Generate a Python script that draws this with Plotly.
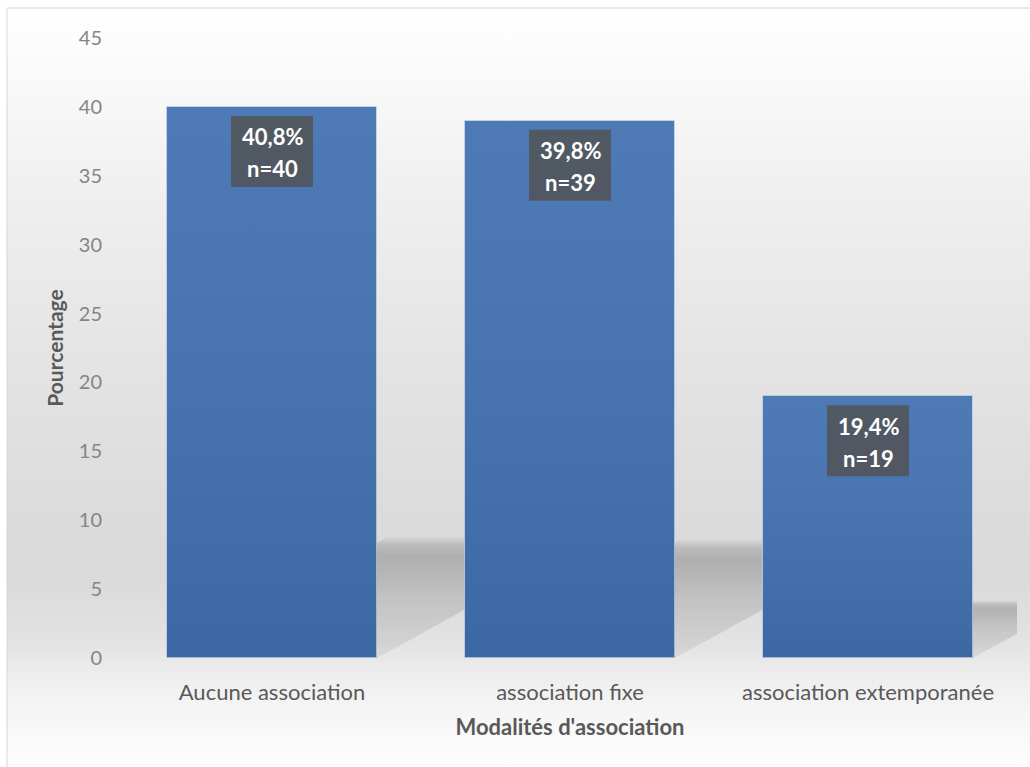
import base64
import plotly.graph_objects as go

# ---- data -------------------------------------------------------------
categories = ["Aucune association", "association fixe", "association extemporanée"]
effectifs = [40, 39, 19]
pourcentages = [40.8, 39.8, 19.4]
y_ticks = [0, 5, 10, 15, 20, 25, 30, 35, 40, 45]

# ---- geometry / style -------------------------------------------------
W, H = 1030, 767
ML, MR, MT, MB = 123, 13, 38, 109
PLOT_W = W - ML - MR
PLOT_H = H - MT - MB
Y_MAX = 45
BAR_W = 0.705
SHADOW_RATIO = 0.22     # shadow height relative to bar height
SHADOW_SLANT = 0.084    # horizontal offset (category units) per y unit
FONT = "Lato, 'Open Sans', sans-serif"


def paper_x(px):
    return (px - ML) / PLOT_W


def paper_y(py):
    return (H - MB - py) / PLOT_H


x_pos = list(range(len(categories)))

# soft vertical background gradient of the chart area
stops = [
    (0.000, "#ffffff"), (0.011, "#ffffff"), (0.08, "#fbfbfb"),
    (0.26, "#efefef"), (0.45, "#e5e5e5"), (0.66, "#dcdcdc"),
    (0.75, "#dadada"), (0.84, "#e3e3e3"), (0.87, "#ebebeb"),
    (0.91, "#f3f3f3"), (0.96, "#f9f9f9"), (1.0, "#fdfdfd"),
]
stop_xml = "".join(
    f'<stop offset="{o}" stop-color="{c}"/>' for o, c in stops
)
svg = (
    f'<svg xmlns="http://www.w3.org/2000/svg" width="{W}" height="{H}" '
    f'viewBox="0 0 {W} {H}" preserveAspectRatio="none">'
    f'<defs><linearGradient id="g" x1="0" y1="0" x2="0" y2="1">{stop_xml}'
    f'</linearGradient></defs>'
    f'<rect x="0" y="0" width="{W}" height="{H}" fill="url(#g)"/>'
    f'<rect x="0" y="0" width="7" height="{H}" fill="#ffffff"/>'
    f'</svg>'
)
bg_src = "data:image/svg+xml;base64," + base64.b64encode(svg.encode()).decode()

fig = go.Figure()

# perspective shadows cast behind each bar (base axes, drawn underneath)
for i, v in zip(x_pos, effectifs):
    h = v * SHADOW_RATIO
    dx = h * SHADOW_SLANT
    xl, xr = i - BAR_W / 2, i + BAR_W / 2
    fig.add_trace(go.Scatter(
        x=[xl, xr, xr + dx, xl + dx, xl],
        y=[0, 0, h, h, 0],
        mode="lines", fill="toself",
        line=dict(width=0, color="rgba(0,0,0,0)"),
        fillgradient=dict(
            type="vertical",
            colorscale=[
                [0.0, "rgba(0,0,0,0.06)"],
                [0.5, "rgba(0,0,0,0.12)"],
                [0.84, "rgba(0,0,0,0.20)"],
                [0.93, "rgba(0,0,0,0.15)"],
                [1.0, "rgba(0,0,0,0.02)"],
            ],
        ),
        hoverinfo="skip", showlegend=False,
        xaxis="x", yaxis="y",
    ))

# bars (overlay axes so they sit above the shadows)
fig.add_trace(go.Bar(
    x=x_pos, y=effectifs, width=BAR_W,
    marker=dict(color="#4272b0",
                line=dict(color="rgba(215,228,245,0.6)", width=1)),
    hoverinfo="skip", showlegend=False,
    xaxis="x2", yaxis="y2",
))

# subtle light-to-dark shading across each bar
for i, v in zip(x_pos, effectifs):
    xl, xr = i - BAR_W / 2, i + BAR_W / 2
    fig.add_trace(go.Scatter(
        x=[xl, xr, xr, xl, xl], y=[0, 0, v, v, 0],
        mode="lines", fill="toself",
        line=dict(width=0, color="rgba(0,0,0,0)"),
        fillgradient=dict(
            type="vertical",
            colorscale=[[0.0, "rgba(0,10,40,0.10)"],
                        [1.0, "rgba(255,255,255,0.06)"]],
        ),
        hoverinfo="skip", showlegend=False,
        xaxis="x2", yaxis="y2",
    ))

# data label boxes and texts
shapes = []
annotations = []
for i, v, p, n in zip(x_pos, effectifs, pourcentages, effectifs):
    shapes.append(dict(
        type="rect", xref="x2", yref="y2",
        xsizemode="pixel", ysizemode="pixel",
        xanchor=i, yanchor=v,
        x0=-41, x1=41, y0=-9, y1=-80,
        fillcolor="rgba(82,82,84,0.84)", line=dict(width=0),
        layer="above",
    ))
    pct_txt = f"{p:.1f}".replace(".", ",") + "%"
    for txt, shift in ((pct_txt, -30), (f"n={n}", -62)):
        annotations.append(dict(
            x=i, y=v, xref="x2", yref="y2", text=txt,
            showarrow=False, xanchor="center", yanchor="middle",
            yshift=shift,
            font=dict(family=FONT, size=22, color="#ffffff", weight="bold"),
        ))

# outer frame of the chart
shapes.append(dict(
    type="rect", xref="paper", yref="paper",
    x0=paper_x(7), x1=paper_x(W + 20), y0=paper_y(8), y1=paper_y(H + 20),
    line=dict(color="#d6d6d6", width=1), fillcolor="rgba(0,0,0,0)",
    layer="below",
))

fig.update_layout(
    width=W, height=H,
    margin=dict(l=ML, r=MR, t=MT, b=MB, pad=0),
    paper_bgcolor="#ffffff",
    plot_bgcolor="rgba(0,0,0,0)",
    font=dict(family=FONT, color="#595959"),
    showlegend=False,
    bargap=0,
    shapes=shapes,
    annotations=annotations,
    images=[dict(
        source=bg_src, xref="paper", yref="paper",
        x=paper_x(0), y=paper_y(0), sizex=W / PLOT_W, sizey=H / PLOT_H,
        xanchor="left", yanchor="top", sizing="stretch", layer="below",
    )],
    xaxis=dict(
        range=[-0.5, len(categories) - 0.5],
        tickmode="array", tickvals=x_pos, ticktext=categories,
        tickfont=dict(family=FONT, size=22, color="#595959"),
        ticks="outside", ticklen=15, tickcolor="rgba(0,0,0,0)",
        showgrid=False, zeroline=False, showline=False,
        title=dict(text="Modalités d'association", standoff=15,
                   font=dict(family=FONT, size=22, color="#595959",
                             weight="bold")),
        fixedrange=True,
    ),
    yaxis=dict(
        range=[0, Y_MAX],
        tickmode="array", tickvals=y_ticks,
        tickfont=dict(family=FONT, size=20, color="#858585"),
        ticks="outside", ticklen=16, tickcolor="rgba(0,0,0,0)",
        showgrid=False, zeroline=False, showline=False,
        title=dict(text="Pourcentage", standoff=9,
                   font=dict(family=FONT, size=21, color="#595959",
                             weight="bold")),
        fixedrange=True,
    ),
    xaxis2=dict(overlaying="x", range=[-0.5, len(categories) - 0.5],
                visible=False, fixedrange=True),
    yaxis2=dict(overlaying="y", range=[0, Y_MAX],
                visible=False, fixedrange=True),
)

fig.write_html("out.html")
